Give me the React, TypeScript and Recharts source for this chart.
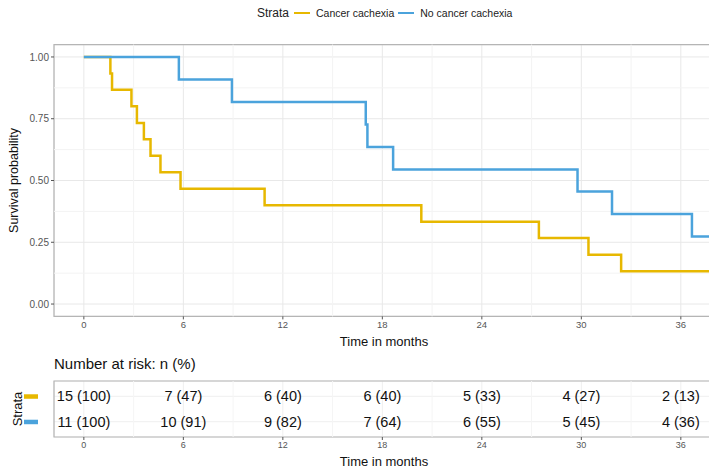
import {
  ComposedChart,
  Line,
  Scatter,
  XAxis,
  YAxis,
  CartesianGrid,
  ReferenceLine,
  ReferenceArea,
  Label,
} from 'recharts';

const FONT = '"Liberation Sans", Arial, sans-serif';
const ORANGE = '#E7B800';
const BLUE = '#4BA3DC';

// Kaplan-Meier steps
const cachexiaTimes = [0, 1.6, 1.7, 2.87, 3.2, 3.62, 4.02, 4.62, 5.83, 10.9, 20.35, 27.44, 30.43, 32.4, 38];
const cachexiaSurv = [1, 0.933, 0.867, 0.8, 0.733, 0.667, 0.6, 0.533, 0.467, 0.4, 0.333, 0.267, 0.2, 0.133, 0.133];
const noCachexiaTimes = [0, 5.73, 8.93, 17.0, 17.1, 18.65, 29.77, 31.85, 36.67, 38];
const noCachexiaSurv = [1, 0.909, 0.818, 0.727, 0.636, 0.545, 0.455, 0.364, 0.273, 0.273];

const timeTicks = [0, 6, 12, 18, 24, 30, 36];
const minorTimes = [3, 9, 15, 21, 27, 33];
const survTicks = [0, 0.25, 0.5, 0.75, 1];
const minorSurv = [0.125, 0.375, 0.625, 0.875];

const riskCachexia = ['15 (100)', '7 (47)', '6 (40)', '6 (40)', '5 (33)', '4 (27)', '2 (13)'];
const riskNoCachexia = ['11 (100)', '10 (91)', '9 (82)', '7 (64)', '6 (55)', '5 (45)', '4 (36)'];

const X_DOMAIN: [number, number] = [-1.8, 38];

const cachexiaData = cachexiaTimes.map((t, i) => ({ t, s: cachexiaSurv[i] }));
const noCachexiaData = noCachexiaTimes.map((t, i) => ({ t, s: noCachexiaSurv[i] }));
const riskData = [
  ...timeTicks.map((t, i) => ({ t, row: 2, label: riskCachexia[i] })),
  ...timeTicks.map((t, i) => ({ t, row: 1, label: riskNoCachexia[i] })),
];

const tickStyle = { fill: '#555', fontSize: 9.5, fontFamily: FONT };

const RiskText = (props: any) => {
  const { cx, cy, payload } = props;
  return (
    <text x={cx} y={cy} textAnchor="middle" dominantBaseline="central" fontSize={14.5} fontFamily={FONT} fill="#111">
      {payload.label}
    </text>
  );
};

const StrataTick = (props: any) => {
  const { x, y, payload } = props;
  const color = payload.value === 2 ? ORANGE : BLUE;
  return <rect x={x - 22} y={y - 2} width={14} height={4.5} fill={color} />;
};

const App = () => {
  return (
    <div
      style={{
        position: 'absolute',
        left: 0,
        top: 0,
        width: 709,
        height: 470,
        overflow: 'hidden',
        background: '#fff',
        fontFamily: FONT,
      }}
    >
      {/* Legend */}
      <div
        style={{
          position: 'absolute',
          left: 257,
          top: 6,
          display: 'flex',
          alignItems: 'center',
          color: '#222',
          whiteSpace: 'nowrap',
        }}
      >
        <span style={{ fontSize: 12 }}>Strata</span>
        <span style={{ display: 'inline-block', width: 16, height: 2.5, background: ORANGE, marginLeft: 5 }} />
        <span style={{ fontSize: 10.5, marginLeft: 6 }}>Cancer cachexia</span>
        <span style={{ display: 'inline-block', width: 16, height: 2.5, background: BLUE, marginLeft: 4 }} />
        <span style={{ fontSize: 10.5, marginLeft: 6 }}>No cancer cachexia</span>
      </div>

      {/* Survival curves */}
      <div style={{ position: 'absolute', left: 0, top: 0 }}>
        <ComposedChart width={720} height={350} margin={{ top: 44.6, right: 6, bottom: 3.6, left: 0 }}>
          <CartesianGrid stroke="#e8e8e8" strokeWidth={1} />
          {minorTimes.map((t) => (
            <ReferenceLine key={`mx${t}`} x={t} stroke="#f3f3f3" strokeWidth={1} />
          ))}
          {minorSurv.map((s) => (
            <ReferenceLine key={`my${s}`} y={s} stroke="#f3f3f3" strokeWidth={1} />
          ))}
          <XAxis
            type="number"
            dataKey="t"
            domain={X_DOMAIN}
            ticks={timeTicks}
            allowDataOverflow
            axisLine={false}
            tickLine={{ stroke: '#555' }}
            tickSize={3}
            tick={tickStyle}
            height={30}
          >
            <Label value="Time in months" position="insideBottom" offset={0} fontSize={13} fill="#111" fontFamily={FONT} />
          </XAxis>
          <YAxis
            type="number"
            dataKey="s"
            domain={[-0.05, 1.05]}
            ticks={survTicks}
            allowDataOverflow
            tickFormatter={(v: number) => v.toFixed(2)}
            axisLine={false}
            tickLine={{ stroke: '#555' }}
            tickSize={3}
            tick={{ ...tickStyle, fontSize: 10 }}
            width={54}
          >
            <Label
              value="Survival probability"
              angle={-90}
              position="insideLeft"
              offset={14}
              fill="#111"
              fontFamily={FONT}
              style={{ textAnchor: 'middle', fontSize: 12.5 }}
            />
          </YAxis>
          <ReferenceArea x1={X_DOMAIN[0]} x2={X_DOMAIN[1]} y1={-0.05} y2={1.05} fill="none" stroke="#b5b5b5" strokeWidth={1.2} />
          <Line
            data={cachexiaData}
            dataKey="s"
            type="stepAfter"
            stroke={ORANGE}
            strokeWidth={2.5}
            dot={false}
            isAnimationActive={false}
          />
          <Line
            data={noCachexiaData}
            dataKey="s"
            type="stepAfter"
            stroke={BLUE}
            strokeWidth={2.5}
            dot={false}
            isAnimationActive={false}
          />
        </ComposedChart>
      </div>

      {/* Risk table */}
      <div style={{ position: 'absolute', left: 54, top: 355, fontSize: 15, color: '#111', whiteSpace: 'nowrap' }}>
        Number at risk: n (%)
      </div>
      <div style={{ position: 'absolute', left: 0, top: 350 }}>
        <ComposedChart width={720} height={120} margin={{ top: 31, right: 6, bottom: 0, left: 0 }}>
          <CartesianGrid stroke="#efefef" strokeWidth={1} />
          {minorTimes.map((t) => (
            <ReferenceLine key={`rmx${t}`} x={t} stroke="#f5f5f5" strokeWidth={1} />
          ))}
          <XAxis
            type="number"
            dataKey="t"
            domain={X_DOMAIN}
            ticks={timeTicks}
            allowDataOverflow
            axisLine={false}
            tickLine={{ stroke: '#555' }}
            tickSize={3}
            tick={{ ...tickStyle, fontSize: 9 }}
            height={33}
          >
            <Label value="Time in months" position="insideBottom" offset={4} fontSize={13} fill="#111" fontFamily={FONT} />
          </XAxis>
          <YAxis
            type="number"
            dataKey="row"
            domain={[0.4, 2.6]}
            ticks={[1, 2]}
            axisLine={false}
            tickLine={false}
            tick={<StrataTick />}
            width={54}
          >
            <Label
              value="Strata"
              angle={-90}
              position="insideLeft"
              offset={17}
              fill="#111"
              fontFamily={FONT}
              style={{ textAnchor: 'middle', fontSize: 13 }}
            />
          </YAxis>
          <ReferenceArea x1={X_DOMAIN[0]} x2={X_DOMAIN[1]} y1={0.4} y2={2.6} fill="none" stroke="#b5b5b5" strokeWidth={1.2} />
          <Scatter data={riskData} shape={<RiskText />} isAnimationActive={false} />
        </ComposedChart>
      </div>
    </div>
  );
};

export default App;
